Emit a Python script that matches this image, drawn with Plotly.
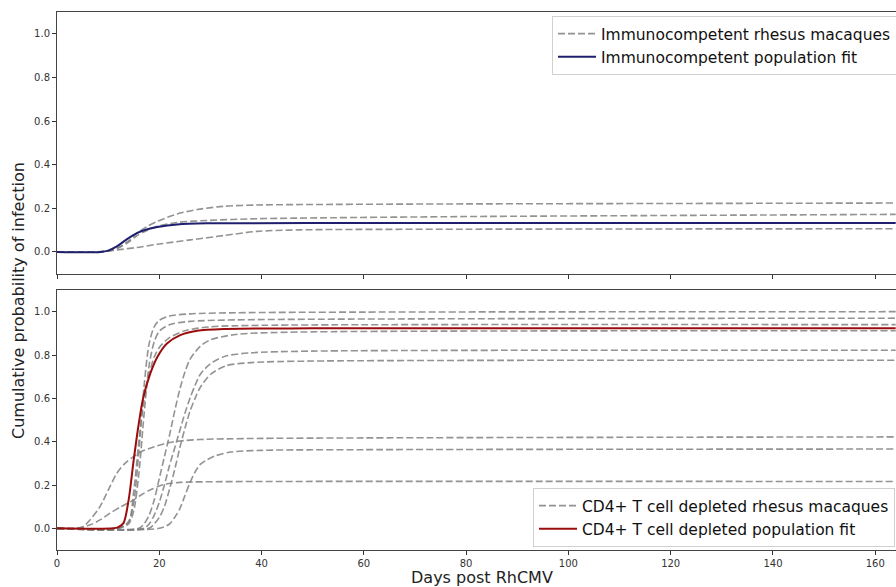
import plotly.graph_objects as go

# ---------------- Data ----------------
# Top panel: immunocompetent animals
ic_a_days = [0, 8, 10, 12, 14, 15.6, 17.5, 19.6, 23.5, 27.4, 32.6, 39.1, 47.5, 80, 120, 164]
ic_a_vals = [0, 0, 0.005, 0.02, 0.05, 0.085, 0.115, 0.14, 0.174, 0.194, 0.209, 0.215, 0.217, 0.22, 0.222, 0.224]
ic_b_days = [0, 8, 10, 12, 14, 15.6, 17.5, 19.6, 23.5, 29.3, 39.1, 47.5, 80, 120, 164]
ic_b_vals = [0, 0, 0.004, 0.018, 0.045, 0.074, 0.097, 0.117, 0.135, 0.144, 0.152, 0.155, 0.162, 0.167, 0.172]
ic_c_days = [0, 8, 10, 11.7, 15.6, 19.6, 26.1, 32.6, 39.1, 47.5, 80, 164]
ic_c_vals = [0, 0, 0.003, 0.009, 0.02, 0.035, 0.055, 0.075, 0.094, 0.101, 0.104, 0.106]
ic_fit_days = [0, 8.5, 10, 11.7, 13.5, 15.6, 17.5, 19.6, 23.5, 29.3, 60, 164]
ic_fit_vals = [0, 0, 0.006, 0.025, 0.055, 0.086, 0.103, 0.114, 0.126, 0.131, 0.132, 0.132]

# Bottom panel: CD4+ T cell depleted animals
cd_1_days = [0, 12, 14, 15, 16, 17, 18, 19, 20, 22, 26, 35, 60, 164]
cd_1_vals = [0, 0, 0.03, 0.12, 0.35, 0.65, 0.85, 0.93, 0.96, 0.98, 0.99, 0.995, 0.998, 1.0]
cd_2_days = [0, 12, 14, 15, 16, 17, 18, 19, 20, 22, 26, 35, 164]
cd_2_vals = [0, 0, 0.02, 0.08, 0.25, 0.52, 0.75, 0.86, 0.91, 0.94, 0.955, 0.962, 0.97]
cd_3_days = [0, 12, 14, 15, 16, 17, 18, 19, 20, 22, 25, 30, 40, 164]
cd_3_vals = [0, 0, 0.03, 0.17, 0.40, 0.59, 0.71, 0.79, 0.835, 0.88, 0.912, 0.93, 0.937, 0.94]
cd_4_days = [0, 16, 17, 18, 19, 20, 21, 22, 23, 24, 25, 26, 28, 30, 35, 45, 164]
cd_4_vals = [0, 0, 0.02, 0.06, 0.13, 0.23, 0.33, 0.43, 0.54, 0.64, 0.72, 0.78, 0.84, 0.87, 0.895, 0.905, 0.912]
cd_5_days = [0, 17, 18, 19, 20, 21, 22, 23, 24, 25, 26, 27, 28, 30, 33, 38, 50, 164]
cd_5_vals = [0, 0, 0.02, 0.06, 0.12, 0.2, 0.29, 0.37, 0.45, 0.53, 0.6, 0.66, 0.71, 0.76, 0.795, 0.81, 0.818, 0.822]
cd_6_days = [0, 18, 19, 20, 21, 22, 23, 24, 25, 26, 27, 28, 30, 33, 38, 50, 164]
cd_6_vals = [0, 0, 0.02, 0.05, 0.1, 0.18, 0.27, 0.37, 0.46, 0.54, 0.6, 0.65, 0.71, 0.75, 0.765, 0.772, 0.776]
cd_7_days = [0, 3, 5.1, 6.5, 8.4, 10, 11.7, 13.3, 14.9, 16.5, 18.2, 21.4, 24, 27.9, 40, 164]
cd_7_vals = [0, 0, 0.008, 0.04, 0.1, 0.175, 0.254, 0.3, 0.33, 0.355, 0.37, 0.393, 0.403, 0.41, 0.415, 0.422]
cd_8_days = [0, 20, 22, 23, 24, 25, 26, 27, 28, 29.3, 31, 34, 40, 60, 164]
cd_8_vals = [0, 0, 0.02, 0.05, 0.09, 0.15, 0.21, 0.26, 0.295, 0.316, 0.335, 0.352, 0.36, 0.363, 0.366]
cd_9_days = [0, 4, 6.5, 8.5, 10.4, 12.5, 14.9, 16.5, 18.2, 20, 21.4, 24, 30, 164]
cd_9_vals = [0, 0, 0.016, 0.04, 0.07, 0.1, 0.13, 0.155, 0.177, 0.195, 0.205, 0.212, 0.215, 0.216]
cd_fit_days = [0, 11, 12, 13, 14, 15, 16, 16.9, 18.25, 19.6, 21.5, 24.1, 27.4, 32.6, 50, 164]
cd_fit_vals = [0, 0, 0.006, 0.024, 0.13, 0.316, 0.485, 0.607, 0.715, 0.79, 0.853, 0.892, 0.912, 0.92, 0.923, 0.924]

ic_individuals = [(ic_a_days, ic_a_vals), (ic_b_days, ic_b_vals), (ic_c_days, ic_c_vals)]
cd_individuals = [(cd_1_days, cd_1_vals), (cd_2_days, cd_2_vals), (cd_3_days, cd_3_vals),
                  (cd_4_days, cd_4_vals), (cd_5_days, cd_5_vals), (cd_6_days, cd_6_vals),
                  (cd_7_days, cd_7_vals), (cd_8_days, cd_8_vals), (cd_9_days, cd_9_vals)]

x_ticks = [0, 20, 40, 60, 80, 100, 120, 140, 160]
y_ticks = [0.0, 0.2, 0.4, 0.6, 0.8, 1.0]
y_ticktext = ["0.0", "0.2", "0.4", "0.6", "0.8", "1.0"]

# ---------------- Styles ----------------
FONT = "DejaVu Sans"
GRAY = "rgba(128,128,128,0.85)"
NAVY = "#1f1f6e"
RED = "#9b0d0d"
DASH = "7px,3px"
W, H = 896, 587
L, R, T, B = 57, 0, 12, 37

fig = go.Figure()

for i, (d, v) in enumerate(ic_individuals):
    fig.add_trace(go.Scatter(x=d, y=v, mode="lines", xaxis="x", yaxis="y",
                             line=dict(color=GRAY, width=1.6, dash=DASH, shape="spline", smoothing=0.8),
                             name="Immunocompetent rhesus macaques", legend="legend",
                             showlegend=(i == 0), hoverinfo="skip"))
fig.add_trace(go.Scatter(x=ic_fit_days, y=ic_fit_vals, mode="lines", xaxis="x", yaxis="y",
                         line=dict(color=NAVY, width=2, shape="spline", smoothing=0.8),
                         name="Immunocompetent population fit", legend="legend"))

for i, (d, v) in enumerate(cd_individuals):
    fig.add_trace(go.Scatter(x=d, y=v, mode="lines", xaxis="x2", yaxis="y2",
                             line=dict(color=GRAY, width=1.6, dash=DASH, shape="spline", smoothing=0.8),
                             name="CD4+ T cell depleted rhesus macaques", legend="legend2",
                             showlegend=(i == 0), hoverinfo="skip"))
fig.add_trace(go.Scatter(x=cd_fit_days, y=cd_fit_vals, mode="lines", xaxis="x2", yaxis="y2",
                         line=dict(color=RED, width=2, shape="spline", smoothing=0.8),
                         name="CD4+ T cell depleted population fit", legend="legend2"))

plot_h = H - T - B
plot_w = W - L - R

def py(px):  # pixel y -> paper y
    return (H - B - px) / plot_h

def pxx(px):  # pixel x -> paper x
    return (px - L) / plot_w

x_max = (896 - 57) / 5.114

axis_common = dict(range=[0, x_max], tickvals=x_ticks, ticks="outside", ticklen=4, tickwidth=1,
                   tickcolor="#333", showline=True, linecolor="#444", linewidth=1, mirror=True,
                   showgrid=False, zeroline=False,
                   tickfont=dict(family=FONT, size=10, color="#333"))
yaxis_common = dict(range=[-0.1, 1.1], tickvals=y_ticks, ticktext=y_ticktext, ticks="outside",
                    ticklen=4, tickwidth=1, tickcolor="#333", showline=True, linecolor="#444",
                    linewidth=1, showgrid=False, zeroline=False,
                    tickfont=dict(family=FONT, size=10, color="#333"))

legend_style = dict(font=dict(family=FONT, size=15.5, color="#111"), bgcolor="rgba(255,255,255,0.85)",
                    bordercolor="#d0d0d0", borderwidth=1, xanchor="left", yanchor="top",
                    traceorder="normal", itemwidth=38, tracegroupgap=0)

fig.update_layout(
    width=W, height=H,
    margin=dict(l=L, r=R, t=T, b=B, autoexpand=False),
    paper_bgcolor="white", plot_bgcolor="white",
    font=dict(family=FONT),
    xaxis=dict(axis_common, domain=[0, 1], anchor="y", showticklabels=False, matches="x2"),
    yaxis=dict(yaxis_common, domain=[py(273.7), 1], anchor="x"),
    xaxis2=dict(axis_common, domain=[0, 1], anchor="y2"),
    yaxis2=dict(yaxis_common, domain=[0, py(290)], anchor="x2"),
    legend=dict(legend_style, x=pxx(552), y=py(16)),
    legend2=dict(legend_style, x=pxx(533), y=py(488)),
    annotations=[
        dict(text="Cumulative probability of infection", xref="paper", yref="paper",
             x=pxx(18), y=py(301), textangle=-90, showarrow=False,
             font=dict(family=FONT, size=16, color="#222"), xanchor="center", yanchor="middle"),
        dict(text="Days post RhCMV", xref="paper", yref="paper",
             x=pxx(482), y=py(577), showarrow=False,
             font=dict(family=FONT, size=16, color="#222"), xanchor="center", yanchor="middle"),
    ],
)

fig.write_html("out.html", config={"displayModeBar": False},
               post_script="document.body.style.margin='0';document.body.style.overflow='hidden';")
